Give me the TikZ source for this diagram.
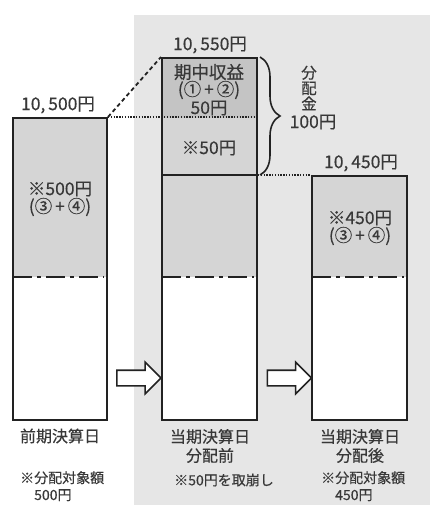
\documentclass[tikz,border=0pt]{standalone}
\usepackage{fontspec}
\setmainfont{Noto Sans CJK JP}[FakeBold=0.35]
\usetikzlibrary{decorations.pathreplacing,shapes.arrows}
\definecolor{bgc}{HTML}{E6E6E6}
\definecolor{boxc}{HTML}{D5D5D5}
\definecolor{topc}{HTML}{C4C4C4}
\definecolor{txt}{HTML}{383838}
\definecolor{ln}{HTML}{222222}
\tikzset{
  boxn/.style={draw=ln, line width=2pt, inner sep=0pt},
  big/.style={text=txt, inner sep=0pt, font=\fontsize{17.5}{20}\selectfont},
  lab/.style={text=txt, inner sep=0pt, align=center, font=\fontsize{16}{19}\selectfont},
  note/.style={text=txt, inner sep=0pt, align=left, font=\fontsize{14}{17}\selectfont},
  dashdot/.style={draw=ln, line width=2pt, dash pattern=on 19pt off 5pt on 4pt off 5pt},
  dots/.style={draw=ln, line width=1.2pt, dash pattern=on 1.4pt off 1.4pt},
  dashes/.style={draw=ln, line width=1.8pt, dash pattern=on 4pt off 3pt},
  blockarrow/.style={single arrow, draw=ln, fill=white, line width=1.6pt,
    minimum height=44pt, single arrow head extend=8pt, inner xsep=0pt, inner ysep=7pt}
}
\begin{document}
\begin{tikzpicture}[x=1pt,y=-1pt]
\useasboundingbox (0,0) rectangle (430,505);
\fill[white] (0,0) rectangle (430,505);
\fill[bgc] (134,15) rectangle (430,505);
% fills
\fill[boxc] (13,118) rectangle (107,277);
\fill[white] (13,277) rectangle (107,420);
\fill[topc] (162,58) rectangle (257,118);
\fill[boxc] (162,118) rectangle (257,277);
\fill[white] (162,277) rectangle (257,420);
\fill[boxc] (312,176) rectangle (407,277);
\fill[white] (312,277) rectangle (407,420);
% boxes
\node[boxn, minimum width=94pt, minimum height=302pt] (L) at (60,269) {};
\node[boxn, minimum width=95pt, minimum height=362pt] (M) at (209.5,239) {};
\node[boxn, minimum width=95pt, minimum height=244pt] (R) at (359.5,298) {};
\coordinate (dd) at (0,277);
% dash-dot lines
\draw[dashdot] ([xshift=1pt]L.west |- dd) -- ([xshift=-4pt]L.east |- dd);
\draw[dashdot] ([xshift=1pt]M.west |- dd) -- ([xshift=-4pt]M.east |- dd);
\draw[dashdot] ([xshift=1pt]R.west |- dd) -- ([xshift=-4pt]R.east |- dd);
% connectors
\draw[dots] (L.north east) -- (M.east |- L.north east);
\draw[dashes] (L.north east) -- (M.north west);
\draw[draw=ln, line width=2.4pt] (M.west |- R.north) -- (M.east |- R.north);
\draw[dots] (M.east |- R.north) -- (R.north west);
\draw[draw=ln, line width=1.6pt, decorate, decoration={brace, amplitude=20pt, raise=2pt}]
  (M.north east) -- (M.east |- R.north);
% top values
\node[big] (vL) at (58,105) {10,\,500円};
\node[big] (vM) at (210,45) {10,\,550円};
\node[big] (vR) at (361,163) {10,\,450円};
% middle box texts
\node[big] (m1) at (209,72) {期中収益};
\node[big] (m2) at (209,90) {(①\,+\,②)};
\node[big] (m3) at (209,108) {50円};
\node[big] (m4) at (209,148) {※50円};
% left / right box texts
\node[big] (l1) at (60,189) {※500円};
\node[big] (l2) at (60,207) {(③\,+\,④)};
\node[big] (r1) at (360,218) {※450円};
\node[big] (r2) at (360,236) {(③\,+\,④)};
% brace label
\node[lab, font=\fontsize{15.5}{15.5}\selectfont] (bk) at (309,88) {分\\配\\金};
\node[big] (bv) at (313,122) {100円};
% arrows
\node[blockarrow] (A1) at (135,378) {};
\node[blockarrow] (A2) at (285.5,378) {};
% bottom labels
\node[lab] (bL) at (60,436) {前期決算日};
\node[lab] (bM) at (210,446) {当期決算日\\分配前};
\node[lab] (bR) at (360,446) {当期決算日\\分配後};
% notes
\node[note, anchor=north west] (nL) at (20,471) {※分配対象額\\\hphantom{※}500円};
\node[note] (nM) at (224,480) {※50円を取崩し};
\node[note, anchor=north west] (nR) at (321,471) {※分配対象額\\\hphantom{※}450円};
\end{tikzpicture}
\end{document}
